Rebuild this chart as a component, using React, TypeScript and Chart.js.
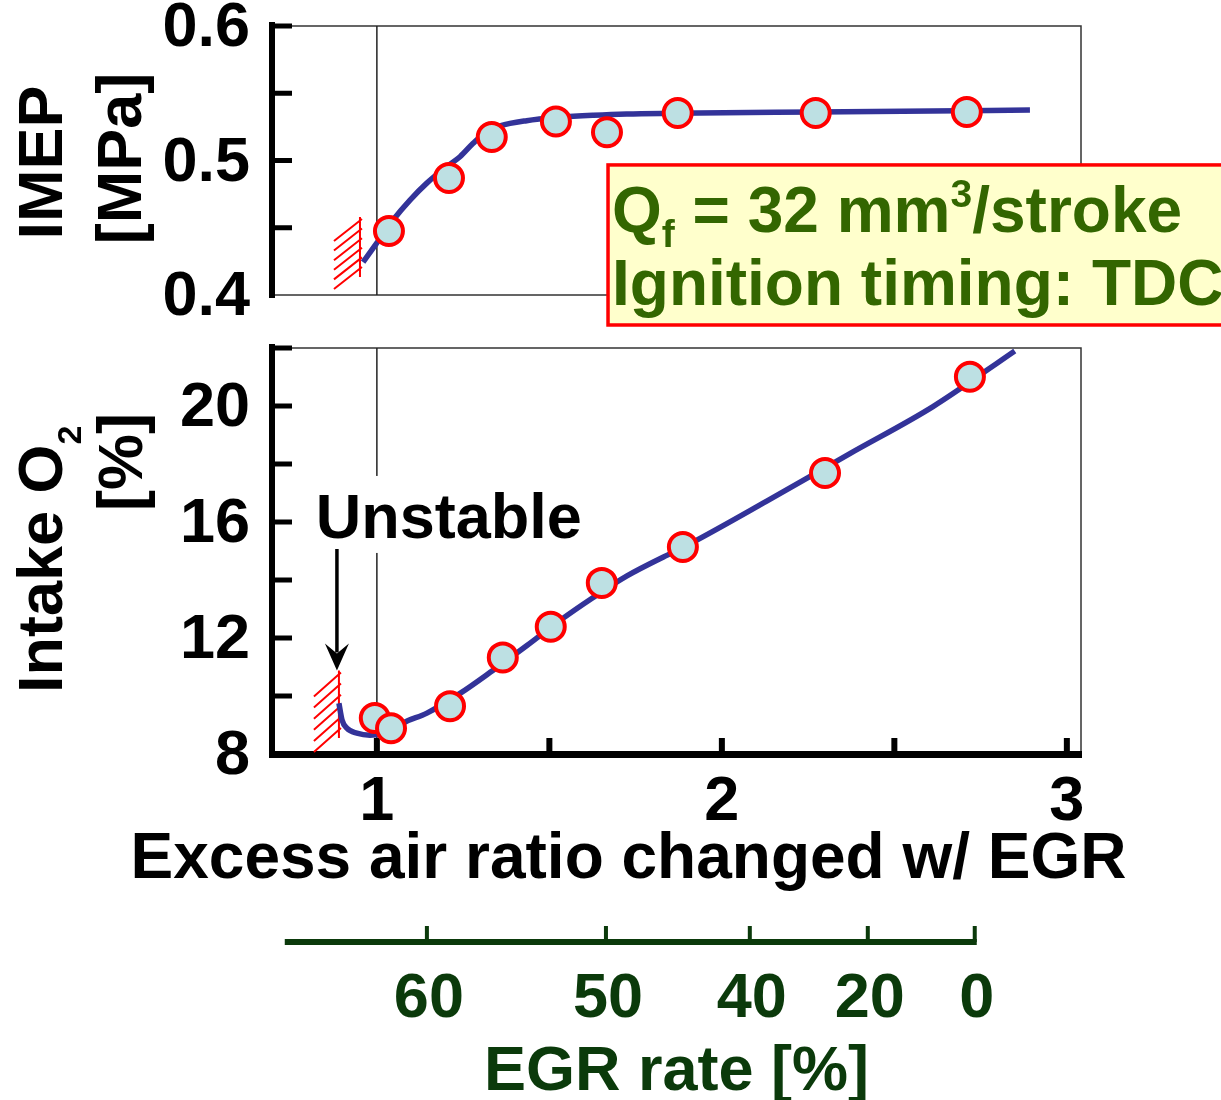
import React, { useEffect, useRef } from 'react';
import { Chart, registerables } from 'chart.js';

Chart.register(...registerables);

const FONT = "'Liberation Sans', Arial, Helvetica, sans-serif";
const W = 1221;
const TOP_H = 330;
const BOT_H = 770;

// ---------------- data ----------------
const xMin = 0.696;
const xMax = 3.041;
const xTickValues = [1, 1.5, 2, 2.5, 3];
const xTickLabels = ['1', '', '2', '', '3'];

const imepTickValues = [0.4, 0.45, 0.5, 0.55, 0.6];
const imepTickLabels = ['0.4', '', '0.5', '', '0.6'];

const o2TickValues = [8, 10, 12, 14, 16, 18, 20, 22];
const o2TickLabels = ['8', '', '12', '', '16', '', '20', ''];

// IMEP [MPa] vs excess air ratio
const imepPointLambda = [1.035, 1.209, 1.333, 1.519, 1.667, 1.872, 2.272, 2.71];
const imepPointValues = [0.4476, 0.487, 0.5175, 0.529, 0.521, 0.5353, 0.5353, 0.5361];
const imepCurveLambda = [0.96, 0.999, 1.047, 1.096, 1.144, 1.202, 1.241, 1.279, 1.318, 1.357, 1.434, 1.53, 1.627, 1.724, 1.859, 2.272, 2.893];
const imepCurveValues = [0.4245, 0.4384, 0.4558, 0.4706, 0.483, 0.4954, 0.5028, 0.5128, 0.5214, 0.5257, 0.5296, 0.5321, 0.5336, 0.5346, 0.5351, 0.5361, 0.5375];

// Intake O2 [%] vs excess air ratio
const o2PointLambda = [0.994, 1.041, 1.212, 1.365, 1.504, 1.652, 1.887, 2.299, 2.719];
const o2PointValues = [9.24, 8.89, 9.65, 11.33, 12.39, 13.9, 15.14, 17.69, 21.01];
const o2CurveLambda = [0.89, 0.899, 0.913, 0.942, 0.98, 1.046, 1.075, 1.145, 1.241, 1.336, 1.435, 1.53, 1.626, 1.725, 1.849, 1.887, 2.13, 2.371, 2.612, 2.849];
const o2CurveValues = [9.75, 9.17, 8.89, 8.72, 8.65, 8.82, 9.06, 9.41, 10.09, 10.88, 11.74, 12.6, 13.39, 14.14, 14.9, 15.12, 16.72, 18.36, 19.98, 21.9];

// EGR rate secondary scale (EGR % at excess air ratio)
const egrRates = [60, 50, 40, 20, 0];
const egrLambda = [1.145, 1.664, 2.081, 2.423, 2.733];
const egrAxisStartLambda = 0.733;

// Unstable region markers
const imepUnstableLambda = 0.951;
const imepUnstableRange = [0.4134, 0.458];
const o2UnstableLambda = 0.89;
const o2UnstableRange = [8.55, 10.88];
const unstableArrowFromO2 = 15.07;
const unstableLabelLambda = 0.823;
const unstableLabelO2 = 15.45;

// condition box anchor (excess air ratio / IMEP)
const boxLambda = 1.67;
const boxTopImep = 0.4967;
const boxBottomImep = 0.3777;

// ---------------- styles ----------------
const LINE = '#333399';
const PT_FILL = '#bde0e3';
const PT_EDGE = '#ff0000';
const FRAME = '#333333';
const EGR_COLOR = '#0b3a0b';
const BOX_TEXT = '#336600';
const FS = 63;

const bold = (s: number) => `bold ${s}px ${FONT}`;
const pts = (xs: number[], ys: number[]) => xs.map((x, i) => ({ x, y: ys[i] }));
const labelFor = (vals: number[], labels: string[], v: number) => {
  const i = vals.findIndex((t) => Math.abs(t - v) < 1e-9);
  return i >= 0 ? labels[i] : '';
};

type Run = { t: string; s: number; dy: number };
function drawRuns(ctx: CanvasRenderingContext2D, runs: Run[], x: number, y: number) {
  let cx = x;
  ctx.textAlign = 'left';
  ctx.textBaseline = 'alphabetic';
  for (const r of runs) {
    ctx.font = bold(r.s);
    ctx.fillText(r.t, cx, y + r.dy);
    cx += ctx.measureText(r.t).width;
  }
}
function runsWidth(ctx: CanvasRenderingContext2D, runs: Run[]) {
  let w = 0;
  for (const r of runs) {
    ctx.font = bold(r.s);
    w += ctx.measureText(r.t).width;
  }
  return w;
}

function drawHatch(ctx: CanvasRenderingContext2D, x: number, yTop: number, yBot: number, dx: number, dy: number) {
  ctx.save();
  ctx.strokeStyle = '#ff0000';
  ctx.lineWidth = 2;
  ctx.beginPath();
  ctx.moveTo(x, yTop);
  ctx.lineTo(x, yBot);
  const n = 6;
  for (let i = 0; i < n; i++) {
    const yr = yTop + 2 + (i * (yBot - yTop - 12)) / (n - 1);
    ctx.moveTo(x + 2, yr);
    ctx.lineTo(x - dx, yr + dy);
  }
  ctx.stroke();
  ctx.restore();
}

function drawFrameAndAxis(chart: any, tickVals: number[]) {
  const { ctx, chartArea: a, scales } = chart;
  const xs = scales.x;
  const ys = scales.y;
  ctx.save();
  ctx.strokeStyle = FRAME;
  ctx.lineWidth = 1.5;
  ctx.strokeRect(a.left, a.top, a.right - a.left, a.bottom - a.top);
  const x1 = xs.getPixelForValue(1);
  ctx.strokeStyle = '#222';
  ctx.beginPath();
  ctx.moveTo(x1, a.top);
  ctx.lineTo(x1, a.bottom);
  ctx.stroke();
  ctx.fillStyle = '#000';
  ctx.fillRect(a.left - 3, a.top - 4, 6, a.bottom - a.top + 7);
  tickVals.forEach((v) => {
    const py = ys.getPixelForValue(v);
    if (Math.abs(py - a.bottom) < 2) return;
    ctx.fillRect(a.left, py - 2.5, 20, 5);
  });
  ctx.restore();
}

function drawRotated(ctx: CanvasRenderingContext2D, runs: Run[], baseX: number, y: number, align: 'center' | 'start') {
  ctx.save();
  ctx.translate(baseX, y);
  ctx.rotate(-Math.PI / 2);
  ctx.fillStyle = '#000';
  const w = runsWidth(ctx, runs);
  const sx = align === 'center' ? -w / 2 : 0;
  drawRuns(ctx, runs, sx, 0);
  ctx.restore();
}

const topDecor = {
  id: 'topDecor',
  beforeDatasetsDraw(chart: any) {
    const { ctx, scales } = chart;
    drawFrameAndAxis(chart, imepTickValues);
    drawHatch(
      ctx,
      scales.x.getPixelForValue(imepUnstableLambda),
      scales.y.getPixelForValue(imepUnstableRange[1]),
      scales.y.getPixelForValue(imepUnstableRange[0]),
      26,
      22
    );
  },
  afterDraw(chart: any) {
    const { ctx, chartArea: a, scales } = chart;
    const cy = (a.top + a.bottom) / 2;
    drawRotated(ctx, [{ t: 'IMEP', s: FS, dy: 0 }], 62, cy + 2, 'center');
    drawRotated(ctx, [{ t: '[MPa]', s: FS, dy: 0 }], 141, cy - 2, 'center');

    // condition box
    const bx = scales.x.getPixelForValue(boxLambda);
    const by0 = scales.y.getPixelForValue(boxTopImep);
    const by1 = scales.y.getPixelForValue(boxBottomImep);
    ctx.save();
    ctx.fillStyle = '#ffffcc';
    ctx.fillRect(bx, by0, W + 20 - bx, by1 - by0);
    ctx.strokeStyle = '#ff0000';
    ctx.lineWidth = 3.5;
    ctx.strokeRect(bx, by0, W + 20 - bx, by1 - by0);
    ctx.fillStyle = BOX_TEXT;
    drawRuns(
      ctx,
      [
        { t: 'Q', s: 64, dy: 0 },
        { t: 'f', s: 39, dy: 15 },
        { t: ' = 32 mm', s: 64, dy: 0 },
        { t: '3', s: 39, dy: -25 },
        { t: '/stroke', s: 64, dy: 0 },
      ],
      bx + 4,
      by0 + 67
    );
    drawRuns(ctx, [{ t: 'Ignition timing: TDC', s: 64, dy: 0 }], bx + 4, by0 + 140);
    ctx.restore();
  },
};

const botDecor = {
  id: 'botDecor',
  beforeDatasetsDraw(chart: any) {
    const { ctx, chartArea: a, scales } = chart;
    const xs = scales.x;
    const ys = scales.y;
    drawFrameAndAxis(chart, o2TickValues);
    ctx.save();
    // x axis thick line + inward ticks
    ctx.fillStyle = '#000';
    ctx.fillRect(a.left - 3, a.bottom - 3, a.right - a.left + 4, 7);
    xTickValues.forEach((v) => {
      const px = xs.getPixelForValue(v);
      ctx.fillRect(px - 3, a.bottom - 16, 6, 16);
    });
    // Unstable label with white background
    const lx = xs.getPixelForValue(unstableLabelLambda);
    const ly = ys.getPixelForValue(unstableLabelO2);
    ctx.font = bold(FS);
    const tw = ctx.measureText('Unstable').width;
    ctx.fillStyle = '#fff';
    ctx.fillRect(lx - 4, ly - 62, tw + 8, 77);
    ctx.fillStyle = '#000';
    ctx.textAlign = 'left';
    ctx.textBaseline = 'alphabetic';
    ctx.fillText('Unstable', lx, ly);
    // arrow
    const ax = xs.getPixelForValue(o2UnstableLambda) - 2;
    const ay0 = ys.getPixelForValue(unstableArrowFromO2);
    const tip = ys.getPixelForValue(o2UnstableRange[1]);
    ctx.strokeStyle = '#000';
    ctx.lineWidth = 3.5;
    ctx.beginPath();
    ctx.moveTo(ax, ay0);
    ctx.lineTo(ax, tip - 18);
    ctx.stroke();
    ctx.beginPath();
    ctx.moveTo(ax, tip);
    ctx.lineTo(ax - 12, tip - 27);
    ctx.lineTo(ax, tip - 17);
    ctx.lineTo(ax + 12, tip - 27);
    ctx.closePath();
    ctx.fill();
    ctx.restore();
    drawHatch(
      ctx,
      xs.getPixelForValue(o2UnstableLambda),
      ys.getPixelForValue(o2UnstableRange[1]),
      ys.getPixelForValue(o2UnstableRange[0]),
      25,
      24
    );
  },
  afterDraw(chart: any) {
    const { ctx, chartArea: a, scales } = chart;
    const xs = scales.x;
    // y titles
    drawRotated(
      ctx,
      [
        { t: 'Intake O', s: FS, dy: 0 },
        { t: '2', s: 34, dy: 19 },
      ],
      62,
      693 - TOP_H,
      'start'
    );
    drawRotated(ctx, [{ t: '[%]', s: FS, dy: 0 }], 142, 462 - TOP_H, 'center');

    ctx.save();
    // x title
    ctx.fillStyle = '#000';
    ctx.font = bold(64);
    ctx.textAlign = 'center';
    ctx.textBaseline = 'alphabetic';
    ctx.fillText('Excess air ratio changed w/ EGR', (a.left + a.right) / 2 - 48, a.bottom + 124);

    // EGR axis
    const yLine = a.bottom + 188;
    const x0 = xs.getPixelForValue(egrAxisStartLambda);
    const x1 = xs.getPixelForValue(egrLambda[egrLambda.length - 1]);
    ctx.fillStyle = EGR_COLOR;
    ctx.fillRect(x0, yLine - 3, x1 - x0 + 2, 6);
    ctx.font = bold(FS);
    egrLambda.forEach((l, i) => {
      const px = xs.getPixelForValue(l);
      ctx.fillRect(px - 2, yLine - 16, 4, 16);
      ctx.fillText(String(egrRates[i]), px + 2, a.bottom + 263);
    });
    ctx.fillText('EGR rate [%]', (a.left + a.right) / 2, a.bottom + 336);
    ctx.restore();
  },
};

const tickFont = { family: FONT, size: FS, weight: 'bold' as const, lineHeight: 1.2 };

function topConfig(): any {
  return {
    type: 'scatter',
    data: {
      datasets: [
        {
          label: 'IMEP measured',
          data: pts(imepPointLambda, imepPointValues),
          showLine: false,
          pointRadius: 14,
          pointBackgroundColor: PT_FILL,
          pointBorderColor: PT_EDGE,
          pointBorderWidth: 4,
        },
        {
          label: 'IMEP trend',
          data: pts(imepCurveLambda, imepCurveValues),
          showLine: true,
          borderColor: LINE,
          borderWidth: 5.5,
          pointRadius: 0,
          cubicInterpolationMode: 'monotone',
          fill: false,
        },
      ],
    },
    options: {
      responsive: false,
      animation: false,
      devicePixelRatio: 1,
      events: [],
      layout: { padding: { left: 0, top: 26, right: 140, bottom: 35 } },
      plugins: { legend: { display: false }, tooltip: { enabled: false } },
      scales: {
        x: { type: 'linear', min: xMin, max: xMax, display: false },
        y: {
          type: 'linear',
          min: 0.4,
          max: 0.6,
          afterBuildTicks: (s: any) => {
            s.ticks = imepTickValues.map((v) => ({ value: v }));
          },
          afterFit: (s: any) => {
            s.width = 272;
            s.paddingTop = 0;
            s.paddingBottom = 0;
          },
          grid: { display: false },
          border: { display: false },
          ticks: {
            font: tickFont,
            color: '#000',
            padding: 14,
            labelOffset: 3,
            autoSkip: false,
            callback: (v: number) => labelFor(imepTickValues, imepTickLabels, v),
          },
        },
      },
    },
    plugins: [topDecor],
  };
}

function botConfig(): any {
  return {
    type: 'scatter',
    data: {
      datasets: [
        {
          label: 'Intake O2 measured',
          data: pts(o2PointLambda, o2PointValues),
          showLine: false,
          pointRadius: 14,
          pointBackgroundColor: PT_FILL,
          pointBorderColor: PT_EDGE,
          pointBorderWidth: 4,
        },
        {
          label: 'Intake O2 trend',
          data: pts(o2CurveLambda, o2CurveValues),
          showLine: true,
          borderColor: LINE,
          borderWidth: 5.5,
          pointRadius: 0,
          cubicInterpolationMode: 'monotone',
          fill: false,
        },
      ],
    },
    options: {
      responsive: false,
      animation: false,
      devicePixelRatio: 1,
      events: [],
      layout: { padding: { left: 0, top: 16, right: 140, bottom: BOT_H - 424 - 100 } },
      plugins: { legend: { display: false }, tooltip: { enabled: false } },
      scales: {
        x: {
          type: 'linear',
          min: xMin,
          max: xMax,
          afterBuildTicks: (s: any) => {
            s.ticks = xTickValues.map((v) => ({ value: v }));
          },
          afterFit: (s: any) => {
            s.height = 100;
            s.paddingLeft = 0;
            s.paddingRight = 0;
          },
          grid: { display: false },
          border: { display: false },
          ticks: {
            font: tickFont,
            color: '#000',
            padding: 3,
            maxRotation: 0,
            autoSkip: false,
            callback: (v: number) => labelFor(xTickValues, xTickLabels, v),
          },
        },
        y: {
          type: 'linear',
          min: 8,
          max: 22,
          afterBuildTicks: (s: any) => {
            s.ticks = o2TickValues.map((v) => ({ value: v }));
          },
          afterFit: (s: any) => {
            s.width = 272;
            s.paddingTop = 0;
            s.paddingBottom = 0;
          },
          grid: { display: false },
          border: { display: false },
          ticks: {
            font: tickFont,
            color: '#000',
            padding: 14,
            labelOffset: 3,
            autoSkip: false,
            callback: (v: number) => labelFor(o2TickValues, o2TickLabels, v),
          },
        },
      },
    },
    plugins: [botDecor],
  };
}

export default function App() {
  const topRef = useRef<HTMLCanvasElement>(null);
  const botRef = useRef<HTMLCanvasElement>(null);
  useEffect(() => {
    const top = new Chart(topRef.current as HTMLCanvasElement, topConfig());
    const bot = new Chart(botRef.current as HTMLCanvasElement, botConfig());
    return () => {
      top.destroy();
      bot.destroy();
    };
  }, []);
  return (
    <div style={{ position: 'absolute', left: 0, top: 0, width: W, height: 1100, background: '#fff' }}>
      <canvas
        ref={topRef}
        width={W}
        height={TOP_H}
        style={{ position: 'absolute', left: 0, top: 0, width: W, height: TOP_H }}
      />
      <canvas
        ref={botRef}
        width={W}
        height={BOT_H}
        style={{ position: 'absolute', left: 0, top: TOP_H, width: W, height: BOT_H }}
      />
    </div>
  );
}
